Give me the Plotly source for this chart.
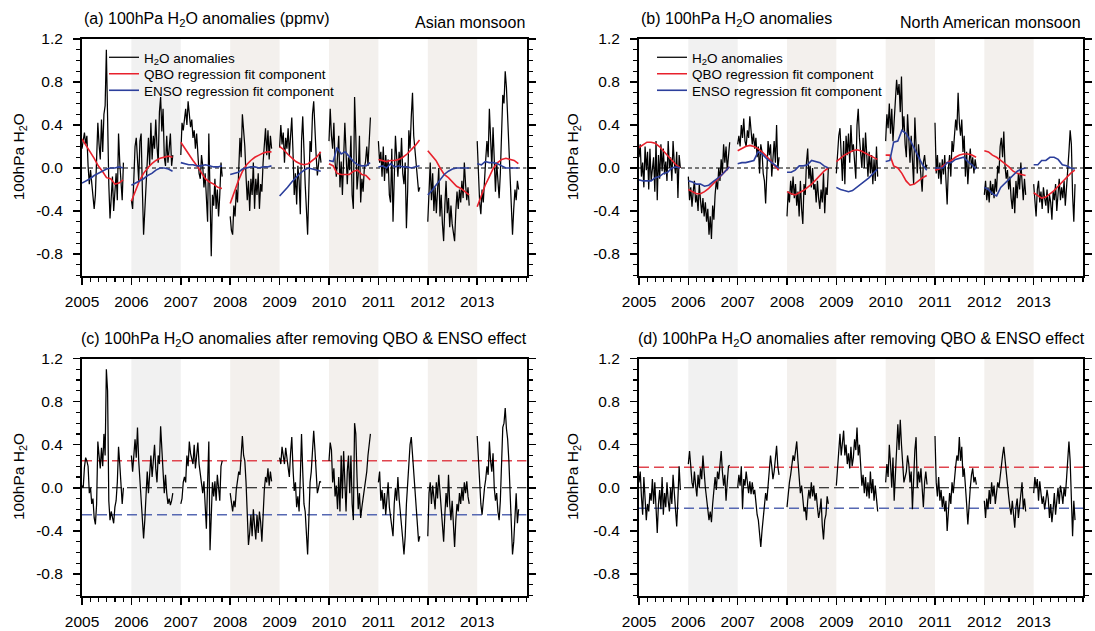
import pandas as pd
import plotly.graph_objects as go

# ---------------- data ----------------
YEARS = list(range(2005, 2014))
SHADED_YEARS = [2006, 2008, 2010, 2012]
STEP_DAYS = 9          # spacing of the H2O anomaly samples (days)
N_DAILY = 35           # samples per yearly segment (Jan -> end Oct)
N_MONTHS = 11          # monthly regression components per segment (Jan -> Nov)

Y_TICKS = [-0.8, -0.4, 0.0, 0.4, 0.8, 1.2]
Y_TICK_TEXT = ["-0.8", "-0.4", "0.0", "0.4", "0.8", "1.2"]

THR_ASIA = 0.25
THR_NAM = 0.19

# (a) Asian monsoon 100hPa H2O anomalies, one row per year 2005..2013
ASIA_H2O = [
    0.18, 0.28, 0.33, 0.22, 0.30, 0.02, -0.15, -0.02, -0.12, -0.28, -0.38, -0.25, 0.05, 0.42, 0.22, 0.08, 0.45, 0.15, 0.50, 0.58, 1.10, 0.30, -0.15, -0.47, -0.28, -0.08, -0.40, -0.22, -0.05, -0.30, 0.32, 0.05, -0.12, -0.30, 0.05,
    -0.30, -0.38, -0.10, 0.20, 0.28, 0.02, -0.12, 0.25, 0.32, -0.20, -0.62, -0.40, -0.15, 0.10, 0.28, 0.02, 0.42, 0.08, 0.30, 0.18, 0.45, 0.20, 0.05, 0.52, 0.66, 0.34, 0.55, 0.10, 0.02, 0.30, 0.05, 0.18, 0.32, 0.02, 0.12,
    0.12, 0.42, 0.35, 0.48, 0.55, 0.40, 0.62, 0.50, 0.38, 0.45, 0.28, 0.35, 0.18, 0.32, 0.12, -0.05, -0.10, 0.12, 0.02, -0.18, -0.05, -0.30, -0.50, 0.32, -0.15, -0.82, -0.25, -0.35, -0.10, -0.38, -0.20, -0.45, -0.25, 0.05, -0.08,
    -0.45, -0.58, -0.62, -0.35, -0.45, -0.20, -0.32, 0.05, 0.28, 0.10, 0.50, 0.35, 0.20, -0.08, -0.30, -0.12, -0.40, -0.10, -0.25, 0.05, -0.38, -0.10, -0.25, -0.05, -0.38, -0.15, -0.22, 0.05, 0.20, 0.37, 0.12, 0.35, 0.08, 0.30, 0.18,
    0.19, 0.40, 0.22, 0.33, 0.05, 0.28, 0.18, 0.37, 0.12, 0.30, 0.47, 0.15, -0.25, -0.05, -0.34, 0.02, -0.12, -0.43, 0.25, 0.48, 0.05, -0.15, -0.38, -0.62, -0.20, 0.25, 0.15, 0.50, 0.62, 0.30, 0.12, -0.07, 0.08, 0.15, 0.05,
    0.25, 0.55, 0.30, 0.18, 0.42, 0.05, -0.08, 0.10, 0.30, -0.18, 0.06, -0.25, 0.05, 0.42, 0.15, -0.15, 0.10, -0.02, 0.30, -0.25, -0.38, 0.66, 0.30, -0.20, -0.06, 0.30, -0.32, -0.10, -0.22, 0.00, 0.06, 0.20, 0.02, 0.33, 0.47,
    0.25, 0.05, 0.15, -0.08, 0.20, -0.12, 0.12, -0.05, 0.08, -0.25, -0.32, 0.18, -0.50, 0.00, 0.30, 0.10, -0.08, 0.15, 0.00, 0.28, -0.05, -0.15, 0.05, -0.56, -0.22, 0.35, 0.18, 0.48, 0.70, 0.30, 0.15, 0.00, -0.06, -0.22, -0.18,
    -0.50, -0.20, 0.05, -0.30, -0.05, -0.40, -0.18, -0.42, -0.25, 0.00, -0.45, -0.25, -0.52, -0.68, -0.35, -0.12, -0.42, -0.28, -0.55, -0.35, -0.52, -0.62, -0.68, -0.40, -0.22, -0.38, -0.20, -0.32, -0.12, -0.28, 0.05, -0.15, -0.30, -0.18, -0.35,
    0.25, -0.05, -0.32, -0.43, -0.20, -0.32, -0.05, 0.08, 0.25, 0.10, 0.55, 0.32, 0.00, 0.38, 0.05, -0.22, 0.05, -0.18, -0.28, -0.05, 0.40, 0.68, 0.60, 0.90, 0.75, 0.45, 0.28, 0.00, -0.45, -0.62, -0.38, -0.20, -0.30, -0.12, -0.20,
]
ASIA_QBO = [
    0.27, 0.21, 0.15, 0.09, 0.02, -0.03, -0.09, -0.10, -0.15, -0.14, -0.11,
    -0.31, -0.20, -0.12, -0.05, 0.00, 0.04, 0.07, 0.09, 0.10, 0.11, 0.10,
    0.24, 0.18, 0.12, 0.07, 0.02, -0.04, -0.10, -0.13, -0.15, -0.18, -0.19,
    -0.33, -0.22, -0.12, -0.03, 0.03, 0.07, 0.10, 0.12, 0.14, 0.15, 0.15,
    0.20, 0.17, 0.13, 0.09, 0.06, 0.04, 0.03, 0.04, 0.07, 0.10, 0.15,
    0.04, 0.02, -0.05, -0.06, -0.06, -0.06, -0.03, -0.02, -0.06, -0.07, -0.11,
    0.08, 0.07, 0.06, 0.07, 0.07, 0.08, 0.10, 0.13, 0.17, 0.21, 0.26,
    0.16, 0.11, 0.07, 0.00, -0.06, -0.09, -0.13, -0.17, -0.19, -0.22, -0.25,
    -0.36, -0.26, -0.16, -0.08, 0.00, 0.05, 0.08, 0.09, 0.08, 0.07, 0.04,
]
ASIA_ENSO = [
    -0.14, -0.12, -0.10, -0.07, -0.05, -0.03, -0.01, 0.00, 0.00, 0.01, 0.00,
    -0.16, -0.14, -0.12, -0.10, -0.07, -0.05, -0.02, 0.00, 0.00, -0.01, -0.03,
    0.05, 0.04, 0.03, 0.03, 0.02, 0.02, 0.03, 0.02, 0.01, 0.01, 0.02,
    -0.06, -0.05, -0.04, -0.01, 0.00, 0.01, 0.01, 0.00, 0.01, 0.01, 0.02,
    -0.26, -0.22, -0.18, -0.13, -0.09, -0.05, -0.02, 0.00, -0.01, -0.02, -0.03,
    0.07, 0.06, 0.19, 0.13, 0.15, 0.10, 0.06, 0.03, 0.02, 0.02, 0.05,
    0.01, 0.02, 0.00, 0.04, 0.01, 0.02, 0.01, 0.01, 0.00, 0.01, 0.02,
    -0.25, -0.21, -0.16, -0.11, -0.06, -0.03, -0.01, 0.00, 0.00, 0.00, 0.00,
    0.04, 0.03, 0.06, 0.05, 0.05, 0.04, 0.02, 0.00, 0.00, 0.00, 0.00,
]

# (b) North American monsoon
NAM_H2O = [
    0.10, 0.22, -0.08, 0.05, -0.18, 0.20, -0.02, 0.15, -0.20, 0.18, -0.12, 0.02, 0.10, -0.22, 0.25, -0.30, 0.12, -0.10, 0.22, -0.03, 0.18, -0.06, 0.06, -0.12, 0.25, 0.00, 0.10, -0.12, 0.25, 0.05, -0.05, 0.15, -0.28, 0.12, 0.00,
    -0.08, -0.30, -0.18, -0.36, -0.22, -0.12, -0.32, -0.25, -0.40, -0.15, -0.30, -0.42, -0.28, -0.45, -0.32, -0.50, -0.38, -0.62, -0.45, -0.66, -0.35, -0.48, -0.25, -0.12, -0.20, 0.00, -0.12, 0.08, -0.05, 0.22, 0.05, 0.20, -0.02, 0.15, 0.24,
    0.22, 0.30, 0.20, 0.40, 0.28, 0.46, 0.25, 0.20, 0.35, 0.28, 0.48, 0.30, 0.22, 0.32, 0.18, 0.28, 0.10, 0.20, -0.05, 0.22, 0.15, -0.05, -0.12, -0.33, 0.05, 0.25, 0.12, 0.22, -0.08, 0.15, 0.25, 0.05, 0.40, -0.02, 0.10,
    -0.45, -0.22, -0.32, -0.12, -0.25, -0.08, -0.28, -0.15, -0.35, -0.22, -0.45, -0.12, -0.38, -0.52, -0.15, -0.25, 0.05, 0.18, -0.10, 0.02, -0.18, 0.00, -0.20, -0.15, -0.32, -0.12, -0.28, -0.38, -0.20, -0.32, -0.05, -0.42, -0.18, -0.25, 0.00,
    -0.05, 0.15, 0.30, 0.37, 0.10, -0.12, 0.25, -0.15, 0.30, 0.12, 0.32, 0.05, 0.40, 0.15, 0.22, 0.05, -0.10, 0.40, 0.55, 0.28, 0.12, 0.00, 0.28, 0.00, 0.33, 0.10, -0.08, 0.15, -0.05, 0.12, -0.15, 0.08, -0.12, 0.20, -0.08,
    0.25, 0.50, 0.37, 0.60, 0.32, 0.55, 0.25, 0.45, 0.62, 0.82, 0.68, 0.78, 0.52, 0.85, 0.35, 0.48, 0.22, 0.10, 0.50, 0.25, 0.05, 0.30, -0.02, -0.15, 0.47, 0.18, -0.05, 0.22, 0.08, -0.12, -0.22, 0.05, 0.12, 0.00, 0.03,
    0.42, -0.05, 0.12, -0.10, 0.05, -0.15, 0.08, -0.06, 0.12, -0.12, -0.34, 0.00, 0.12, -0.08, 0.25, 0.15, 0.28, 0.45, 0.35, 0.70, 0.42, 0.30, 0.45, 0.15, 0.30, -0.08, 0.15, -0.15, 0.05, 0.18, 0.00, 0.10, -0.05, 0.08, 0.00,
    -0.25, -0.12, -0.30, -0.18, -0.32, -0.12, -0.25, -0.15, -0.28, -0.10, -0.22, 0.02, -0.05, 0.20, 0.28, 0.10, 0.34, 0.02, -0.10, -0.02, -0.20, -0.08, -0.28, -0.38, -0.18, -0.42, -0.12, -0.28, -0.05, -0.20, 0.05, -0.12, -0.30, -0.10, -0.25,
    -0.15, -0.35, -0.45, -0.20, -0.12, -0.32, -0.22, -0.38, -0.18, -0.28, -0.35, -0.20, -0.42, -0.25, -0.32, -0.48, -0.22, -0.30, -0.15, -0.40, -0.25, -0.10, -0.30, -0.18, -0.28, -0.12, -0.35, -0.20, -0.05, 0.15, 0.35, 0.22, -0.25, -0.50, -0.15,
]
NAM_QBO = [
    0.19, 0.22, 0.24, 0.24, 0.23, 0.20, 0.16, 0.12, 0.07, 0.03, 0.00,
    -0.20, -0.22, -0.24, -0.24, -0.22, -0.19, -0.15, -0.11, -0.07, -0.03, 0.01,
    0.16, 0.18, 0.20, 0.21, 0.20, 0.18, 0.15, 0.11, 0.07, 0.02, -0.02,
    -0.22, -0.24, -0.25, -0.23, -0.21, -0.18, -0.15, -0.11, -0.07, -0.03, 0.00,
    0.06, 0.09, 0.12, 0.14, 0.16, 0.17, 0.16, 0.14, 0.12, 0.10, 0.08,
    0.12, 0.12, 0.02, 0.00, -0.05, -0.12, -0.16, -0.15, -0.12, -0.09, -0.07,
    -0.02, -0.01, 0.02, 0.05, 0.07, 0.10, 0.12, 0.13, 0.13, 0.12, 0.10,
    0.16, 0.15, 0.12, 0.10, 0.07, 0.04, 0.01, -0.03, -0.05, -0.06, -0.07,
    -0.23, -0.26, -0.28, -0.27, -0.24, -0.21, -0.17, -0.13, -0.09, -0.05, -0.02,
]
NAM_ENSO = [
    -0.11, -0.12, -0.12, -0.12, -0.09, -0.08, -0.05, -0.04, 0.00, 0.01, 0.00,
    -0.12, -0.13, -0.15, -0.15, -0.17, -0.16, -0.13, -0.10, -0.07, -0.03, 0.01,
    0.04, 0.05, 0.05, 0.06, 0.07, 0.15, 0.13, 0.09, 0.06, 0.03, 0.00,
    -0.04, -0.04, -0.02, 0.02, 0.02, 0.03, 0.07, 0.06, 0.05, 0.02, 0.00,
    -0.18, -0.20, -0.21, -0.22, -0.21, -0.18, -0.15, -0.12, -0.09, -0.05, -0.01,
    0.06, 0.07, 0.24, 0.25, 0.35, 0.32, 0.26, 0.18, 0.10, 0.03, -0.02,
    0.00, 0.00, 0.00, 0.05, 0.05, 0.08, 0.09, 0.10, 0.06, 0.03, -0.01,
    -0.18, -0.20, -0.24, -0.26, -0.18, -0.14, -0.10, -0.06, -0.03, -0.01, 0.00,
    0.03, 0.03, 0.07, 0.07, 0.10, 0.10, 0.08, 0.03, 0.02, 0.00, -0.01,
]

# (c) Asian monsoon anomalies after removing QBO & ENSO
ASIA_RESID = [
    0.02, 0.00, 0.19, 0.28, 0.25, 0.20, -0.05, 0.00, -0.15, -0.10, -0.28, -0.34, -0.15, 0.43, 0.30, 0.18, 0.37, 0.20, 0.50, 0.30, 1.10, 0.90, -0.12, -0.30, -0.22, -0.28, -0.33, -0.18, -0.12, 0.05, 0.38, 0.22, 0.05, -0.15, 0.00,
    0.30, 0.15, 0.30, 0.45, 0.28, 0.56, 0.25, 0.05, -0.10, -0.25, -0.47, -0.30, -0.05, 0.15, -0.05, 0.18, 0.30, 0.10, 0.30, 0.40, 0.18, 0.05, 0.30, 0.22, 0.57, 0.40, 0.15, -0.05, 0.12, -0.05, -0.15, -0.10, -0.16, -0.12, -0.05,
    -0.15, -0.10, 0.05, 0.10, 0.05, 0.30, 0.20, 0.43, 0.32, 0.25, 0.22, 0.40, 0.18, 0.30, 0.42, 0.22, 0.12, 0.05, -0.05, 0.06, -0.12, -0.38, 0.05, 0.43, -0.58, -0.25, 0.05, -0.08, 0.06, -0.12, 0.12, 0.00, -0.12, 0.20, 0.25,
    -0.05, -0.15, -0.22, -0.12, -0.18, -0.02, 0.05, 0.15, 0.12, 0.32, 0.48, 0.30, 0.25, 0.05, -0.22, -0.53, -0.42, -0.25, -0.45, -0.20, -0.35, -0.48, -0.25, -0.42, -0.22, -0.32, -0.50, -0.18, -0.02, 0.10, 0.05, 0.18, 0.02, 0.15, 0.06,
    0.28, 0.22, 0.38, 0.30, 0.22, 0.37, 0.28, 0.22, 0.10, 0.32, 0.47, 0.18, -0.03, 0.05, -0.18, -0.08, -0.22, 0.10, 0.50, 0.15, -0.15, -0.22, -0.38, -0.62, -0.30, 0.05, 0.15, 0.32, 0.53, 0.35, 0.15, -0.05, 0.00, 0.06, 0.05,
    0.25, 0.42, 0.35, 0.05, 0.18, -0.08, 0.02, -0.20, 0.10, -0.22, 0.30, -0.10, 0.34, 0.05, -0.22, 0.15, 0.30, -0.05, 0.30, -0.15, -0.30, 0.60, 0.50, 0.10, -0.20, -0.05, -0.28, -0.18, -0.10, -0.05, 0.05, 0.15, 0.30, 0.42, 0.50,
    0.05, 0.15, -0.12, -0.02, -0.20, -0.05, -0.25, -0.10, 0.05, -0.18, -0.28, -0.35, -0.45, -0.15, 0.00, -0.12, 0.10, -0.10, -0.22, -0.30, -0.48, -0.62, -0.45, -0.15, 0.05, 0.25, 0.40, 0.47, 0.30, 0.15, -0.05, -0.22, -0.40, -0.50, -0.45,
    -0.45, -0.05, 0.05, -0.15, 0.02, -0.08, -0.20, 0.05, -0.10, 0.12, -0.05, -0.18, -0.35, -0.50, -0.25, -0.05, -0.18, 0.12, -0.15, -0.30, -0.12, -0.38, -0.55, -0.30, -0.15, -0.22, -0.05, -0.15, 0.00, -0.12, 0.05, -0.05, 0.06, -0.08, -0.15,
    0.48, 0.25, 0.00, -0.15, -0.25, -0.10, 0.00, 0.08, 0.20, 0.12, 0.43, 0.25, 0.15, 0.32, 0.00, -0.12, -0.05, -0.22, -0.30, -0.12, 0.30, 0.56, 0.60, 0.74, 0.55, 0.45, 0.25, 0.00, -0.25, -0.62, -0.50, -0.30, -0.05, -0.33, -0.20,
]

# (d) North American monsoon anomalies after removing QBO & ENSO
NAM_RESID = [
    0.05, 0.15, -0.08, -0.25, 0.10, -0.18, -0.30, -0.15, -0.22, -0.05, -0.12, 0.08, -0.15, 0.05, -0.28, -0.42, -0.15, -0.02, -0.20, 0.10, -0.25, -0.05, -0.18, 0.05, -0.12, -0.22, 0.00, -0.15, 0.12, -0.08, -0.20, -0.36, -0.10, 0.20, -0.02,
    0.22, 0.34, 0.20, 0.05, 0.00, 0.15, 0.02, -0.08, 0.12, 0.00, 0.18, 0.08, 0.30, 0.10, 0.00, -0.10, -0.20, -0.30, -0.22, -0.32, -0.15, 0.02, 0.10, -0.02, 0.15, 0.08, 0.22, 0.34, 0.15, 0.02, 0.12, -0.12, 0.05, 0.20, 0.21,
    0.00, 0.12, 0.02, 0.20, -0.20, 0.08, 0.02, 0.15, 0.05, -0.05, 0.06, -0.06, 0.05, -0.06, -0.02, -0.15, -0.25, -0.30, -0.45, -0.55, -0.40, -0.30, -0.20, -0.05, -0.12, 0.05, 0.18, 0.30, 0.20, 0.08, 0.15, 0.30, 0.39, 0.20, 0.12,
    -0.18, -0.02, 0.05, 0.12, 0.22, 0.30, 0.25, 0.38, 0.43, 0.25, 0.12, -0.05, 0.02, -0.12, -0.22, -0.18, -0.30, -0.12, -0.02, -0.10, 0.05, -0.08, 0.02, -0.12, -0.05, -0.18, -0.28, -0.22, -0.10, -0.35, -0.48, -0.30, -0.25, -0.08, -0.15,
    0.02, 0.20, 0.38, 0.50, 0.30, 0.45, 0.53, 0.30, 0.40, 0.22, 0.32, 0.18, 0.38, 0.20, 0.28, 0.45, 0.35, 0.56, 0.30, 0.40, 0.15, 0.02, 0.12, -0.05, 0.10, -0.08, 0.05, -0.10, 0.15, -0.05, 0.08, -0.12, 0.02, -0.08, -0.22,
    0.05, 0.22, 0.10, 0.40, 0.22, 0.00, 0.28, -0.12, 0.12, 0.45, 0.59, 0.35, 0.63, 0.40, 0.15, 0.05, 0.10, 0.15, 0.30, 0.22, 0.05, 0.15, -0.20, 0.10, 0.35, 0.47, 0.00, 0.15, 0.05, 0.18, -0.05, -0.18, 0.05, 0.15, 0.03,
    0.48, 0.05, -0.08, 0.10, -0.12, -0.02, -0.18, -0.08, -0.22, -0.12, -0.40, -0.25, -0.05, -0.15, 0.05, -0.05, 0.10, 0.20, 0.30, 0.25, 0.47, 0.25, 0.38, 0.10, 0.18, 0.05, -0.15, -0.34, -0.12, 0.00, 0.12, 0.18, 0.05, 0.10, 0.03,
    -0.12, -0.28, -0.10, -0.20, -0.02, -0.15, 0.05, -0.08, 0.02, -0.15, -0.05, 0.05, 0.00, 0.12, 0.22, 0.30, 0.38, 0.25, 0.15, 0.05, -0.08, -0.18, -0.25, -0.12, -0.22, -0.37, -0.18, -0.10, -0.28, -0.15, -0.05, 0.05, -0.20, -0.10, -0.22,
    -0.05, 0.10, 0.00, 0.08, -0.12, 0.06, -0.05, -0.15, -0.08, -0.20, -0.12, -0.02, -0.10, -0.28, -0.15, -0.32, -0.20, -0.05, -0.25, -0.10, 0.00, -0.15, 0.02, -0.05, -0.15, 0.00, -0.08, 0.08, 0.30, 0.43, 0.25, -0.05, -0.45, -0.12, -0.30,
]

# ---------------- styling ----------------
W, H = 1095, 631
FONT = "Liberation Sans, Arial, Helvetica, sans-serif"
C_BLACK = "#000000"
C_QBO = "#e8212c"
C_ENSO = "#2c3f9c"
C_THR_RED = "#e0454e"
C_THR_BLUE = "#5668b2"
SHADE_COLORS = ["#f1f1f1", "#f3f0ed", "#f3f0ed", "#f3f0ed"]

X_DOM_L = [82 / W, 526.6 / W]
X_DOM_R = [639 / W, 1083 / W]
Y_DOM_T = [1 - 275.5 / H, 1 - 39 / H]
Y_DOM_B = [1 - 595.5 / H, 1 - 358.5 / H]


def daily_x(year):
    return [year + STEP_DAYS * k / 365.0 for k in range(N_DAILY)]


def monthly_x(year):
    return [year + (pd.Timestamp(year, m + 1, 1).dayofyear - 1) / 365.0 for m in range(N_MONTHS)]


def segments(values, n, xfun):
    xs, ys = [], []
    for i, yr in enumerate(YEARS):
        xs += xfun(yr) + [None]
        ys += list(values[i * n:(i + 1) * n]) + [None]
    return xs, ys


fig = go.Figure()

panels = [
    ("", ASIA_H2O, ASIA_QBO, ASIA_ENSO, None, "legend", "legend2", "legend3"),
    ("2", NAM_H2O, NAM_QBO, NAM_ENSO, None, "legend4", "legend5", "legend6"),
    ("3", ASIA_RESID, None, None, THR_ASIA, None, None, None),
    ("4", NAM_RESID, None, None, THR_NAM, None, None, None),
]

X_FULL = [YEARS[0], YEARS[-1] + 1]

for suf, h2o, qbo, enso, thr, lg1, lg2, lg3 in panels:
    xa, ya = "x" + suf, "y" + suf
    top = thr is None
    fig.add_trace(go.Scatter(
        x=X_FULL, y=[0, 0], xaxis=xa, yaxis=ya, mode="lines", showlegend=False,
        line=dict(color=C_BLACK, width=1.1, dash="4px,3px" if top else "10px,5px"),
        hoverinfo="skip"))
    if not top:
        fig.add_trace(go.Scatter(
            x=X_FULL, y=[thr, thr], xaxis=xa, yaxis=ya, mode="lines", showlegend=False,
            line=dict(color=C_THR_RED, width=1.5, dash="10px,5px"), hoverinfo="skip"))
        fig.add_trace(go.Scatter(
            x=X_FULL, y=[-thr, -thr], xaxis=xa, yaxis=ya, mode="lines", showlegend=False,
            line=dict(color=C_THR_BLUE, width=1.5, dash="10px,5px"), hoverinfo="skip"))
    hx, hy = segments(h2o, N_DAILY, daily_x)
    fig.add_trace(go.Scatter(
        x=hx, y=hy, xaxis=xa, yaxis=ya, mode="lines", connectgaps=False,
        name="H<sub>2</sub>O anomalies", showlegend=top, legend=lg1 if top else "legend",
        line=dict(color=C_BLACK, width=1.25)))
    if top:
        qx, qy = segments(qbo, N_MONTHS, monthly_x)
        fig.add_trace(go.Scatter(
            x=qx, y=qy, xaxis=xa, yaxis=ya, mode="lines", connectgaps=False,
            name="QBO regression fit component", legend=lg2,
            line=dict(color=C_QBO, width=1.6)))
        ex, ey = segments(enso, N_MONTHS, monthly_x)
        fig.add_trace(go.Scatter(
            x=ex, y=ey, xaxis=xa, yaxis=ya, mode="lines", connectgaps=False,
            name="ENSO regression fit component", legend=lg3,
            line=dict(color=C_ENSO, width=1.6)))

for suf in ["", "2", "3", "4"]:
    for yr, col in zip(SHADED_YEARS, SHADE_COLORS):
        fig.add_shape(type="rect", xref="x" + suf, yref=("y" + suf) + " domain",
                      x0=yr, x1=yr + 1, y0=0, y1=1, fillcolor=col,
                      line=dict(width=0), layer="below")


def xaxis_style(domain, anchor):
    return dict(domain=domain, anchor=anchor, range=X_FULL, automargin=False,
                tickmode="array", tickvals=YEARS, ticktext=[str(y) for y in YEARS],
                ticks="outside", ticklen=7, tickwidth=1.5, tickcolor="black",
                showline=True, linewidth=2, linecolor="black", mirror=True,
                showgrid=False, zeroline=False, ticklabelstandoff=4,
                tickfont=dict(size=15.5, family=FONT, color="black"),
                minor=dict(tickmode="linear", tick0=YEARS[0], dtick=1 / 6, ticks="outside",
                           ticklen=4, tickwidth=1.2, tickcolor="black", showgrid=False))


def yaxis_style(domain, anchor):
    return dict(domain=domain, anchor=anchor, range=[-1.0, 1.2], automargin=False,
                tickmode="array", tickvals=Y_TICKS, ticktext=Y_TICK_TEXT,
                ticks="outside", ticklen=7, tickwidth=1.5, tickcolor="black",
                showline=True, linewidth=2, linecolor="black", mirror="ticks",
                showgrid=False, zeroline=False, ticklabelstandoff=7,
                tickfont=dict(size=15.5, family=FONT, color="black"),
                minor=dict(tickmode="linear", tick0=0, dtick=0.1, ticks="outside",
                           ticklen=4, tickwidth=1.2, tickcolor="black", showgrid=False))


def legend_at(xpx, ypx):
    return dict(x=xpx / W, y=1 - ypx / H, xanchor="left", yanchor="middle",
                bgcolor="rgba(0,0,0,0)", borderwidth=0, itemwidth=30,
                font=dict(size=13.5, family=FONT, color="black"), tracegroupgap=0)


LEG_ROWS = [57.5, 74.0, 90.5]

fig.update_layout(
    width=W, height=H, autosize=False,
    margin=dict(l=0, r=0, t=0, b=0, pad=0, autoexpand=False),
    paper_bgcolor="white", plot_bgcolor="rgba(0,0,0,0)",
    font=dict(family=FONT, size=15, color="black"),
    xaxis=xaxis_style(X_DOM_L, "y"), yaxis=yaxis_style(Y_DOM_T, "x"),
    xaxis2=xaxis_style(X_DOM_R, "y2"), yaxis2=yaxis_style(Y_DOM_T, "x2"),
    xaxis3=xaxis_style(X_DOM_L, "y3"), yaxis3=yaxis_style(Y_DOM_B, "x3"),
    xaxis4=xaxis_style(X_DOM_R, "y4"), yaxis4=yaxis_style(Y_DOM_B, "x4"),
    legend=legend_at(104, LEG_ROWS[0]),
    legend2=legend_at(104, LEG_ROWS[1]),
    legend3=legend_at(104, LEG_ROWS[2]),
    legend4=legend_at(652, LEG_ROWS[0]),
    legend5=legend_at(652, LEG_ROWS[1]),
    legend6=legend_at(652, LEG_ROWS[2]),
)

ann = []


def add_text(text, xpx, ypx, xanchor="left", size=16, angle=0):
    ann.append(dict(text=text, x=xpx / W, y=1 - ypx / H, xref="paper", yref="paper",
                    xanchor=xanchor, yanchor="middle", showarrow=False, textangle=angle,
                    font=dict(size=size, family=FONT, color="black")))


add_text("(a) 100hPa H<sub>2</sub>O anomalies (ppmv)", 82, 20)
add_text("Asian monsoon", 526.6, 22, xanchor="right")
add_text("(b) 100hPa H<sub>2</sub>O anomalies", 639, 20)
add_text("North American monsoon", 1083, 22, xanchor="right")
add_text("(c) 100hPa H<sub>2</sub>O anomalies after removing QBO &amp; ENSO effect", (82 + 526.6) / 2, 339, xanchor="center")
add_text("(d) 100hPa H<sub>2</sub>O anomalies after removing QBO &amp; ENSO effect", (639 + 1083) / 2, 339, xanchor="center")
for xpx, ypx in [(19, (39 + 275.5) / 2), (573, (39 + 275.5) / 2), (19, (358.5 + 595.5) / 2), (573, (358.5 + 595.5) / 2)]:
    add_text("100hPa H<sub>2</sub>O", xpx, ypx, xanchor="center", size=15.5, angle=-90)

fig.update_layout(annotations=ann)

fig.write_html("out.html", config={"displayModeBar": False, "staticPlot": True},
               post_script="document.body.style.margin='0';document.body.style.padding='0';document.body.style.overflow='hidden';")
